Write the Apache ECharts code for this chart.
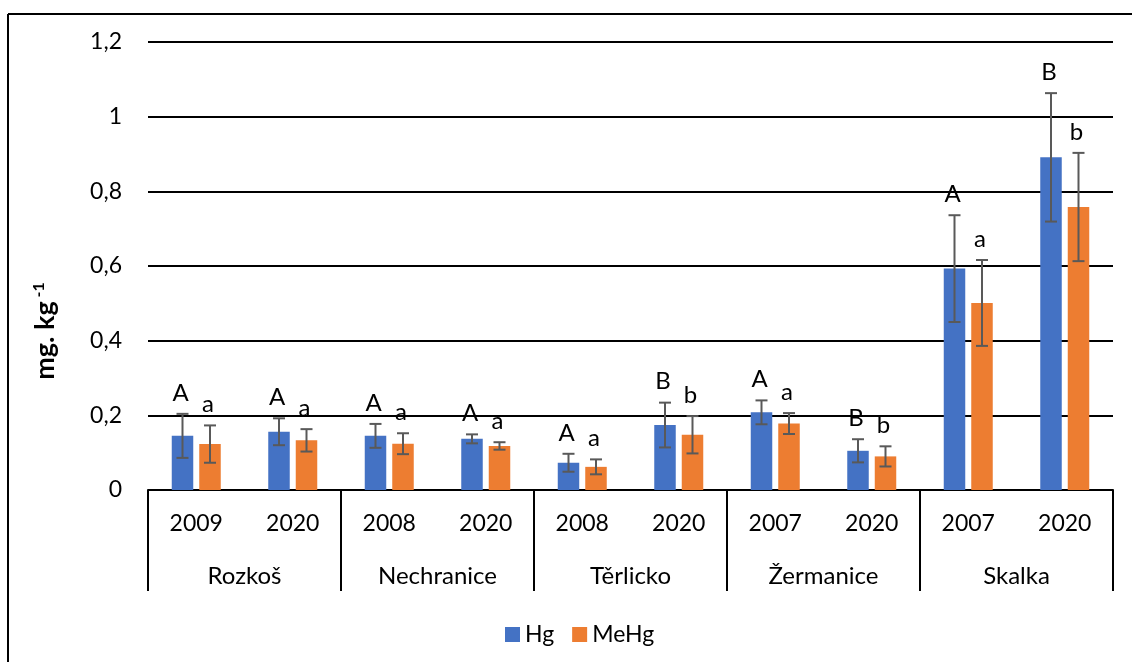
<!DOCTYPE html>
<html>
<head>
<meta charset="utf-8">
<script src="https://cdn.jsdelivr.net/npm/echarts@6/dist/echarts.min.js"></script>
<style>
  html, body { margin: 0; padding: 0; background: #fff; }
  #chart { width: 1132px; height: 662px; }
</style>
</head>
<body>
<div id="chart"></div>
<script>
// data
let years = ['2009', '2020', '2008', '2020', '2008', '2020', '2007', '2020', '2007', '2020'];
let lakes = ['Rozkoš', 'Nechranice', 'Těrlicko', 'Žermanice', 'Skalka'];
let hg = [0.145, 0.156, 0.145, 0.137, 0.073, 0.174, 0.208, 0.105, 0.593, 0.891];
let hgErr = [0.059, 0.036, 0.032, 0.012, 0.024, 0.060, 0.032, 0.031, 0.143, 0.172];
let meHg = [0.123, 0.133, 0.124, 0.118, 0.062, 0.148, 0.178, 0.090, 0.501, 0.758];
let meHgErr = [0.050, 0.030, 0.028, 0.010, 0.020, 0.050, 0.028, 0.027, 0.115, 0.145];
let hgLetters = ['A', 'A', 'A', 'A', 'A', 'B', 'A', 'B', 'A', 'B'];
let meHgLetters = ['a', 'a', 'a', 'a', 'a', 'b', 'a', 'b', 'a', 'b'];

let font = 'Lato';
let barW = 21.5;
let barGapPx = 6;
let chart = echarts.init(document.getElementById('chart'));

// error bar + letter for one series; side -1 = left bar, 1 = right bar
function errorSeries(vals, errs, letters, side) {
    return {
        type: 'custom',
        xAxisIndex: 0,
        z: 5,
        silent: true,
        data: vals.map((v, i) => [i, v, errs[i]]),
        renderItem: (params, api) => {
            let i = api.value(0);
            let v = api.value(1);
            let e = api.value(2);
            let top = api.coord([i, v + e]);
            let bot = api.coord([i, v - e]);
            let x = top[0] + side * (barW + barGapPx) / 2;
            let cap = 6;
            let line = { stroke: '#595959', lineWidth: 2 };
            return {
                type: 'group',
                children: [
                    { type: 'line', shape: { x1: x, y1: top[1], x2: x, y2: bot[1] }, style: line },
                    { type: 'line', shape: { x1: x - cap, y1: top[1], x2: x + cap, y2: top[1] }, style: line },
                    { type: 'line', shape: { x1: x - cap, y1: bot[1], x2: x + cap, y2: bot[1] }, style: line },
                    {
                        type: 'text',
                        style: {
                            text: letters[i], x: x - 2, y: top[1] - 9,
                            align: 'center', verticalAlign: 'bottom',
                            fontFamily: font, fontSize: 24, fill: '#000'
                        }
                    }
                ]
            };
        }
    };
}

chart.setOption({
    animation: false,
    textStyle: { fontFamily: font },
    grid: { left: 148, right: 19, top: 42, bottom: 172 },
    legend: {
        data: ['Hg', 'MeHg'],
        left: 500,
        top: 618,
        icon: 'rect',
        itemWidth: 15,
        itemHeight: 15,
        itemGap: 18,
        textStyle: { fontFamily: font, fontSize: 23, color: '#000' }
    },
    xAxis: [
        {
            type: 'category',
            data: years,
            position: 'bottom',
            axisLine: { show: true, lineStyle: { color: '#000', width: 2 } },
            axisTick: { show: false },
            axisLabel: { color: '#000', fontSize: 23, margin: 22, interval: 0 }
        },
        {
            type: 'category',
            data: lakes,
            position: 'bottom',
            axisLine: { show: false },
            axisTick: { show: true, length: 101, interval: 0, lineStyle: { color: '#000', width: 2 } },
            axisLabel: { color: '#000', fontSize: 24, margin: 74, interval: 0 }
        }
    ],
    yAxis: {
        type: 'value',
        min: 0,
        max: 1.2,
        interval: 0.2,
        axisLine: { show: false },
        axisTick: { show: false },
        splitLine: { lineStyle: { color: '#000', width: 2 } },
        axisLabel: {
            color: '#000', fontSize: 23, margin: 26,
            formatter: v => String(+v.toFixed(1)).replace('.', ',')
        },
        name: '{a|mg. kg}{b| -1}',
        nameLocation: 'middle',
        nameRotate: 90,
        nameGap: 88,
        nameTextStyle: {
            padding: [0, 130, 0, 0],
            rich: {
                a: { fontFamily: font, fontSize: 27, fontWeight: 'bold', color: '#000' },
                b: { fontFamily: font, fontSize: 16, fontWeight: 'bold', color: '#000', padding: [0, 0, 13, 0] }
            }
        }
    },
    series: [
        {
            name: 'Hg', type: 'bar', data: hg, barWidth: barW,
            barGap: (barGapPx / barW * 100) + '%',
            itemStyle: { color: '#4472C4' }
        },
        {
            name: 'MeHg', type: 'bar', data: meHg, barWidth: barW,
            itemStyle: { color: '#ED7D31' }
        },
        errorSeries(hg, hgErr, hgLetters, -1),
        errorSeries(meHg, meHgErr, meHgLetters, 1)
    ],
    graphic: [
        { type: 'line', shape: { x1: 8, y1: 14, x2: 1132, y2: 14 }, style: { stroke: '#000', lineWidth: 2 } },
        { type: 'line', shape: { x1: 8, y1: 14, x2: 8, y2: 662 }, style: { stroke: '#000', lineWidth: 2 } }
    ]
});
</script>
</body>
</html>
